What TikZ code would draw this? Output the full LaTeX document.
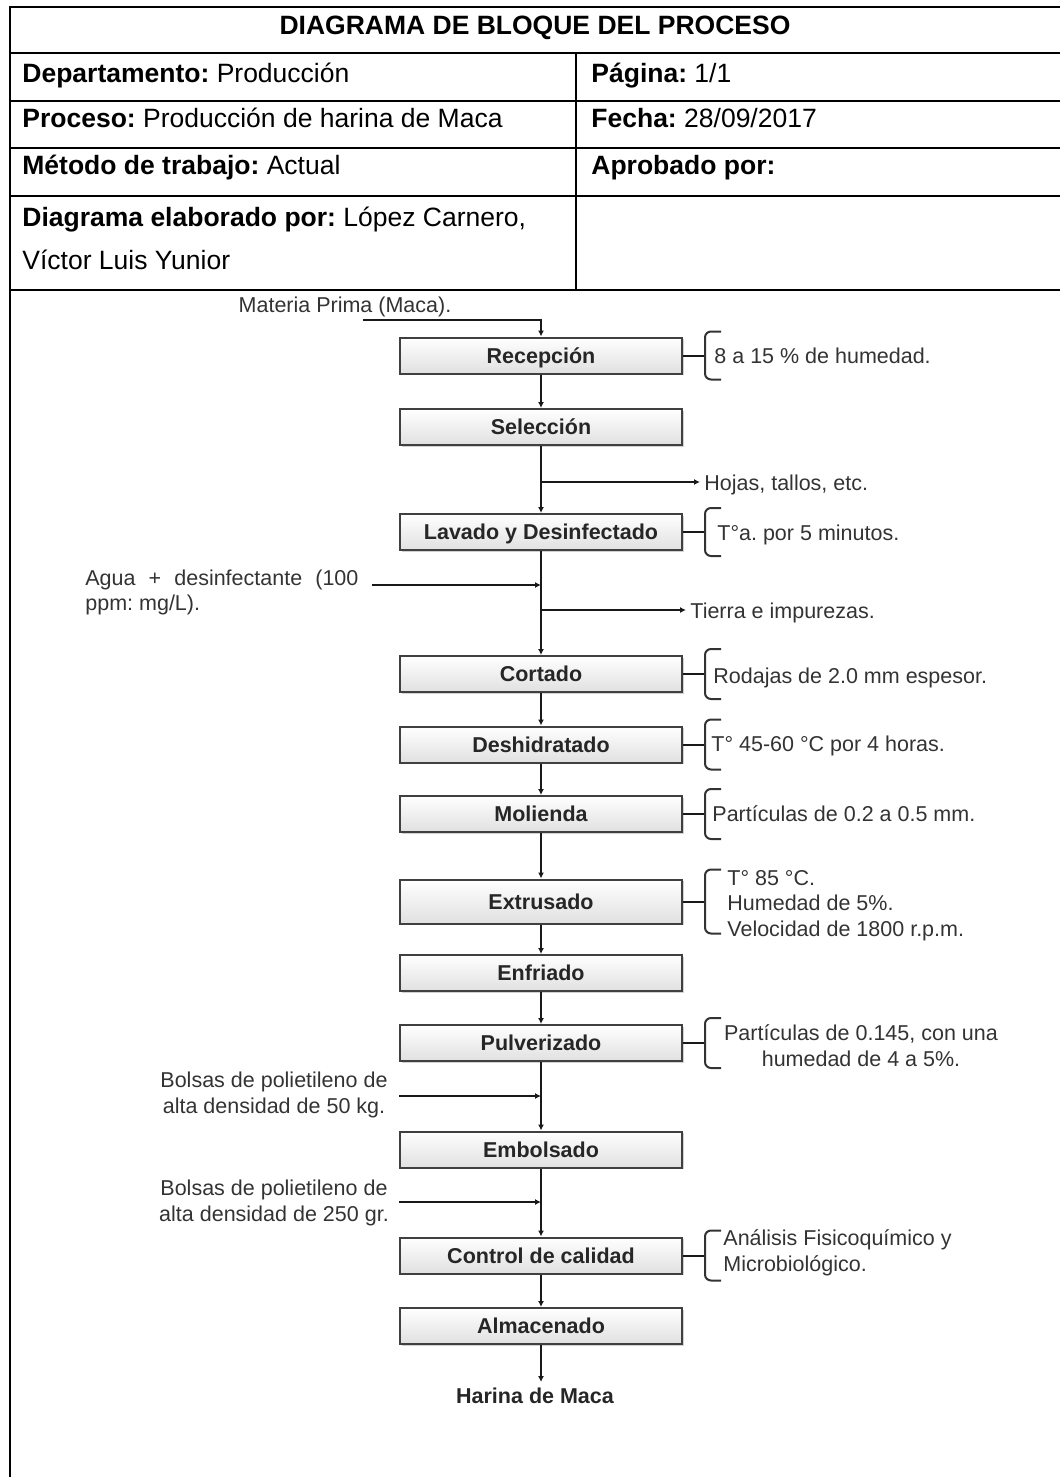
\documentclass[tikz,border=0pt]{standalone}
\usepackage{fontspec}
\setmainfont{Liberation Sans}
\usetikzlibrary{arrows.meta,shadows}
\frenchspacing

\begin{document}
\begin{tikzpicture}[x=0.5pt,y=-0.5pt,
  cell/.style={draw=black,line width=1pt},
  head/.style={inner sep=0pt,font=\fontsize{13.25}{16}\selectfont\bfseries},
  field/.style={inner sep=0pt,anchor=base west,font=\fontsize{13.25}{16}\selectfont},
  stage/.style={draw=black!75,line width=1pt,top color=white,bottom color=black!12,
    minimum width=141pt,minimum height=18pt,inner sep=0pt,text height=7.5pt,text depth=0pt,
    font=\fontsize{10.75}{13}\selectfont\bfseries,text=black!85,
    drop shadow={shadow xshift=0.8pt,shadow yshift=-0.8pt,fill=black,opacity=0.18}},
  note/.style={inner xsep=2pt,inner ysep=0pt,anchor=base west,text=black!80,
    font=\fontsize{10.75}{12.75}\selectfont},
  flow/.style={draw=black!90,line width=1pt,-{Latex[length=3pt,width=3pt]}},
  link/.style={draw=black!90,line width=1pt},
  brace/.style={draw=black!80,line width=1pt,rounded corners=3pt}]
\useasboundingbox (0,0) rectangle (1060,1477);
\draw[cell] (10,1477) -- (10,7) -- (1060,7);
\draw[cell] (10,53) -- (1060,53);
\draw[cell] (10,101) -- (1060,101);
\draw[cell] (10,148) -- (1060,148);
\draw[cell] (10,196) -- (1060,196);
\draw[cell] (10,290) -- (1060,290);
\draw[cell] (576,53) -- (576,290);
\node[head,anchor=base] (title) at (535,34.5) {DIAGRAMA DE BLOQUE DEL PROCESO};
\node[field] (dept) at (22,82.5) {\textbf{Departamento:} Producción};
\node[field] (page) at (591,82.5) {\textbf{Página:} 1/1};
\node[field] (proc) at (22,127.5) {\textbf{Proceso:} Producción de harina de Maca};
\node[field] (date) at (591,127.5) {\textbf{Fecha:} 28/09/2017};
\node[field] (meth) at (22,174.5) {\textbf{Método de trabajo:} Actual};
\node[field] (appr) at (591,174.5) {\textbf{Aprobado por:}};
\node[field] (auth) at (22,226.5) {\textbf{Diagrama elaborado por:} López Carnero,};
\node[field] (auth2) at (22,269.5) {Víctor Luis Yunior};

\node[stage] (recep) at (541,355.5) {Recepción};
\node[stage] (select) at (541,427) {Selección};
\node[stage] (wash) at (541,532) {Lavado y Desinfectado};
\node[stage] (cut) at (541,674) {Cortado};
\node[stage] (dry) at (541,744.5) {Deshidratado};
\node[stage] (mill) at (541,814) {Molienda};
\node[stage,minimum height=22pt] (extr) at (541,901.5) {Extrusado};
\node[stage] (cool) at (541,973) {Enfriado};
\node[stage] (pulv) at (541,1043) {Pulverizado};
\node[stage] (bag) at (541,1149.5) {Embolsado};
\node[stage] (qc) at (541,1255.5) {Control de calidad};
\node[stage] (store) at (541,1326) {Almacenado};

\node[note,anchor=base] (raw text) at (345,312.7) {Materia Prima (Maca).};
\node[note] (leaves) at (700,490) {Hojas, tallos, etc.};
\node[note,text width=136.5pt,align=justify] (water text) at (81,585) {Agua + desinfectante (100 ppm: mg/L).};
\node[note] (soil) at (686,618) {Tierra e impurezas.};
\node[note,anchor=base,align=center] (bag1 text) at (274,1113) {Bolsas de polietileno de\\alta densidad de 50 kg.};
\node[note,anchor=base,align=center] (bag2 text) at (274,1221) {Bolsas de polietileno de\\alta densidad de 250 gr.};
\node[note,anchor=base,inner ysep=2.5pt,font=\fontsize{10.75}{12.75}\selectfont\bfseries,text=black!85] (product) at (535,1403) {Harina de Maca};

\node[note] (n1) at (710,363) {8 a 15 \% de humedad.};
\node[note] (n2) at (713,540) {T°a. por 5 minutos.};
\node[note] (n3) at (709,683) {Rodajas de 2.0 mm espesor.};
\node[note] (n4) at (707,751) {T° 45-60 °C por 4 horas.};
\node[note] (n5) at (708,821) {Partículas de 0.2 a 0.5 mm.};
\node[note,align=left] (n6) at (723,936) {T° 85 °C.\\Humedad de 5\%.\\Velocidad de 1800 r.p.m.};
\node[note,anchor=base,align=center] (n7) at (861,1066) {Partículas de 0.145, con una\\humedad de 4 a 5\%.};
\node[note,align=left] (n8) at (719,1271) {Análisis Fisicoquímico y\\Microbiológico.};

\coordinate (raw) at (363,320);
\coordinate (j1) at (541,482);
\coordinate (water) at (372,585);
\coordinate (j2) at (541,585);
\coordinate (j3) at (541,610);
\coordinate (bag1) at (399,1096);
\coordinate (j4) at (541,1096);
\coordinate (bag2) at (399,1202);
\coordinate (j5) at (541,1202);

\draw[flow] (raw) -| (recep.north);
\draw[flow] (recep.south) -- (select.north);
\draw[flow] (select.south) -- (wash.north);
\draw[flow] (j1) -- (j1 -| leaves.west);
\draw[flow] (wash.south) -- (cut.north);
\draw[flow] (water) -- (j2);
\draw[flow] (j3) -- (j3 -| soil.west);
\draw[flow] (cut.south) -- (dry.north);
\draw[flow] (dry.south) -- (mill.north);
\draw[flow] (mill.south) -- (extr.north);
\draw[flow] (extr.south) -- (cool.north);
\draw[flow] (cool.south) -- (pulv.north);
\draw[flow] (pulv.south) -- (bag.north);
\draw[flow] (bag1) -- (j4);
\draw[flow] (bag.south) -- (qc.north);
\draw[flow] (bag2) -- (j5);
\draw[flow] (qc.south) -- (store.north);
\draw[flow] (store.south) -- (store.south |- product.north);

\draw[link] (recep.east) -- ++(22,0) coordinate (k1);
\draw[brace] (k1) ++(16,-24) -- ++(-16,0) -- ++(0,48) -- ++(16,0);
\draw[link] (wash.east) -- ++(22,0) coordinate (k2);
\draw[brace] (k2) ++(16,-24) -- ++(-16,0) -- ++(0,48) -- ++(16,0);
\draw[link] (cut.east) -- ++(22,0) coordinate (k3);
\draw[brace] (k3) ++(16,-25) -- ++(-16,0) -- ++(0,50) -- ++(16,0);
\draw[link] (dry.east) -- ++(22,0) coordinate (k4);
\draw[brace] (k4) ++(16,-25) -- ++(-16,0) -- ++(0,50) -- ++(16,0);
\draw[link] (mill.east) -- ++(22,0) coordinate (k5);
\draw[brace] (k5) ++(16,-25) -- ++(-16,0) -- ++(0,50) -- ++(16,0);
\draw[link] (extr.east) -- ++(22,0) coordinate (k6);
\draw[brace] (k6) ++(16,-32) -- ++(-16,0) -- ++(0,64) -- ++(16,0);
\draw[link] (pulv.east) -- ++(22,0) coordinate (k7);
\draw[brace] (k7) ++(16,-25) -- ++(-16,0) -- ++(0,50) -- ++(16,0);
\draw[link] (qc.east) -- ++(22,0) coordinate (k8);
\draw[brace] (k8) ++(16,-25) -- ++(-16,0) -- ++(0,50) -- ++(16,0);
\end{tikzpicture}
\end{document}
